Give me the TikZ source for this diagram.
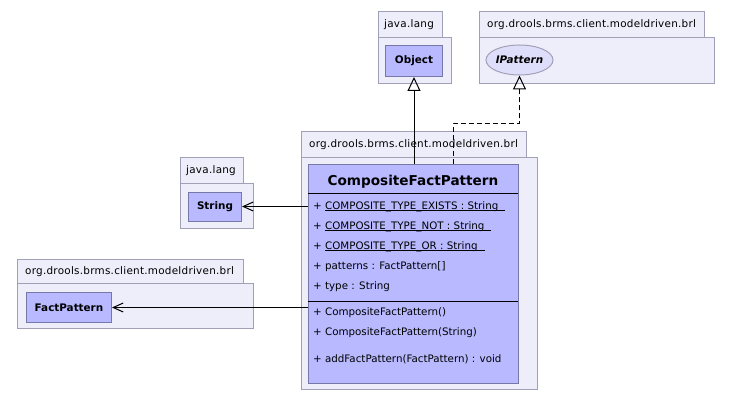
\documentclass[tikz,border=0pt]{standalone}
\usepackage{fontspec}
\setmainfont{DejaVu Sans}
\newfontfamily\pkgfont[LetterSpace=2.5]{DejaVu Sans}
\usetikzlibrary{shapes.geometric,arrows.meta}
\definecolor{pkgfill}{RGB}{238,238,250}
\definecolor{pkgborder}{RGB}{160,160,182}
\definecolor{clsfill}{RGB}{184,185,255}
\definecolor{clsborder}{RGB}{120,120,168}
\definecolor{ifill}{RGB}{222,222,250}
\tikzset{
  pkg/.style={draw=pkgborder, fill=pkgfill, rectangle, inner sep=0pt, anchor=north west, line width=1pt},
  pkglabel/.style={anchor=west, inner sep=0pt, font=\pkgfont\fontsize{10.4}{12}\selectfont},
  clsbox/.style={draw=clsborder, fill=clsfill, rectangle, inner sep=0pt, anchor=north west, line width=1pt},
  clsname/.style={inner sep=0pt, font=\fontsize{10.4}{12}\selectfont\bfseries},
  member/.style={anchor=west, inner sep=0pt, font=\fontsize{10.3}{12}\selectfont},
  inherit/.style={line width=1pt, -{Triangle[open, length=14pt, width=13pt]}},
  realize/.style={line width=1pt, dashed, dash pattern=on 5pt off 3pt, -{Triangle[open, length=14pt, width=13pt]}},
  assoc/.style={line width=1pt, -{Straight Barb[length=10pt, width=9pt]}},
}
\newcommand{\ul}[1]{\setbox0\hbox{#1\hspace{7pt}}\rlap{\rule[-1.6pt]{\wd0}{1pt}}\box0}
\begin{document}
\begin{tikzpicture}[x=1pt, y=-1pt]
\useasboundingbox (0,0) rectangle (733,401);
% java.lang (Object)
\node[pkg, minimum width=64pt, minimum height=26pt] (t1) at (378,11) {};
\node[pkg, minimum width=73pt, minimum height=46pt] (b1) at (378,37) {};
\node[pkglabel] (t1l) at ([xshift=6pt]t1.west) {java.lang};
\node[clsbox, minimum width=57pt, minimum height=31pt] (obj) at (385,45) {};
\node[clsname] (objl) at (obj.center) {Object};
% org.drools... (IPattern)
\node[pkg, minimum width=225pt, minimum height=26pt] (t2) at (479,11) {};
\node[pkg, minimum width=235pt, minimum height=46pt] (b2) at (479,37) {};
\node[pkglabel] (t2l) at ([xshift=8pt]t2.west) {org.drools.brms.client.modeldriven.brl};
\node[ellipse, draw=pkgborder, fill=ifill, line width=1pt, minimum width=67pt, minimum height=30pt, inner sep=0pt] (ip) at (519.5,60) {};
\node[clsname, font=\fontsize{10.4}{12}\selectfont\bfseries\itshape] (ipl) at (ip.center) {IPattern};
% main package
\node[pkg, minimum width=225pt, minimum height=26pt] (t3) at (301,131) {};
\node[pkg, minimum width=236pt, minimum height=232pt] (b3) at (301,157) {};
\node[pkglabel] (t3l) at ([xshift=8pt]t3.west) {org.drools.brms.client.modeldriven.brl};
\node[clsbox, minimum width=210pt, minimum height=219pt] (cls) at (308,164) {};
\node[inner sep=0pt, font=\fontsize{13.6}{16}\selectfont\bfseries] (clsl) at (413,182) {CompositeFactPattern};
\draw[line width=1pt] (308,193) -- (518,193);
\draw[line width=1pt] (308,301.5) -- (518,301.5);
\node[member] (a1) at (313,207) {+ \ul{COMPOSITE\_TYPE\_EXISTS : String}};
\node[member] (a2) at (313,227) {+ \ul{COMPOSITE\_TYPE\_NOT : String}};
\node[member] (a3) at (313,247) {+ \ul{COMPOSITE\_TYPE\_OR : String}};
\node[member] (a4) at (313,267) {+ patterns : FactPattern[]};
\node[member] (a5) at (313,287) {+ type : String};
\node[member] (m1) at (313,313) {+ CompositeFactPattern()};
\node[member] (m2) at (313,333) {+ CompositeFactPattern(String)};
\node[member] (m3) at (313,359) {+ addFactPattern(FactPattern) : void};
% java.lang (String)
\node[pkg, minimum width=63pt, minimum height=26pt] (t4) at (180,157) {};
\node[pkg, minimum width=73pt, minimum height=45pt] (b4) at (180,183) {};
\node[pkglabel] (t4l) at ([xshift=6pt]t4.west) {java.lang};
\node[clsbox, minimum width=53pt, minimum height=29pt] (str) at (188,191.5) {};
\node[clsname] (strl) at (str.center) {String};
% FactPattern package
\node[pkg, minimum width=226pt, minimum height=24pt] (t5) at (17,259) {};
\node[pkg, minimum width=236pt, minimum height=45pt] (b5) at (17,283) {};
\node[pkglabel] (t5l) at ([xshift=8pt]t5.west) {org.drools.brms.client.modeldriven.brl};
\node[clsbox, minimum width=85pt, minimum height=30pt] (fp) at (26,292) {};
\node[clsname] (fpl) at (fp.center) {FactPattern};
% connectors
\coordinate (d1) at (453,124);
\draw[inherit] (obj.south |- cls.north) -- (obj.south);
\draw[realize] (cls.north -| d1) -- (d1) -| (ip.south);
\draw[assoc] (cls.west |- str.east) -- (str.east);
\draw[assoc] (cls.west |- fp.east) -- (fp.east);
\end{tikzpicture}
\end{document}
